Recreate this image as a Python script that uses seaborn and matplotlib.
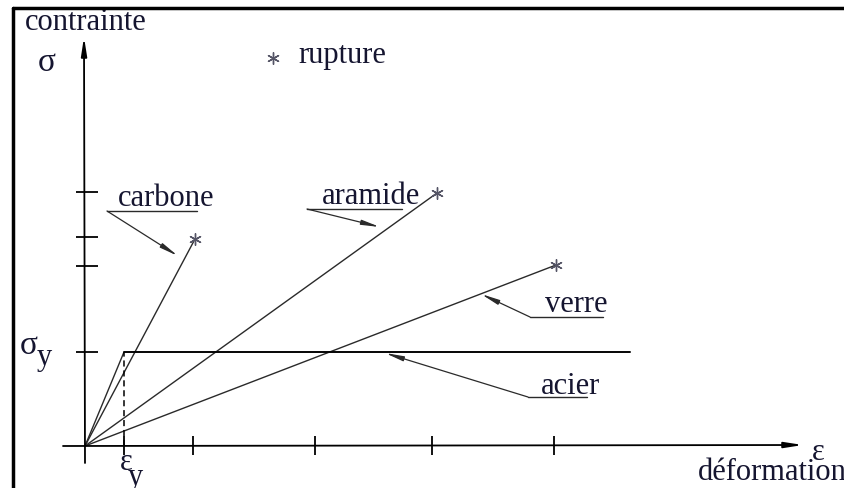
import numpy as np
import pandas as pd
import matplotlib
matplotlib.use("Agg")
import matplotlib.pyplot as plt
from matplotlib.lines import Line2D
import seaborn as sns

materiaux = ["carbone", "aramide", "verre", "acier", "acier"]
eps_y = 0.39
sig_y = 0.94
rupture_eps = [1.10, 3.52, 4.71]
rupture_sig = [2.07, 2.53, 1.81]
acier_eps = [0.0, eps_y, 5.45]
acier_sig = [0.0, sig_y, sig_y]
xticks = [eps_y, 1.08, 2.30, 3.47, 4.69]
yticks = [sig_y, 1.80, 2.09, 2.54]

sns.set_theme(style="white")
plt.rcParams["font.family"] = ["Liberation Serif", "DejaVu Serif"]

rows = []
for nom, e, s in zip(["carbone", "aramide", "verre"], rupture_eps, rupture_sig):
    rows.append((nom, 0.0, 0.0))
    rows.append((nom, e, s))
for e, s in zip(acier_eps, acier_sig):
    rows.append(("acier", e, s))
df = pd.DataFrame(rows, columns=["materiau", "deformation", "contrainte"])

fig = plt.figure(figsize=(8.44, 4.88), dpi=100)
ax = fig.add_axes([0, 0, 1, 1])
ax.set_xlim(-0.85, 7.59)
ax.set_ylim(-0.42, 4.46)
ax.set_axis_off()

txt = "#151530"
trait = "#2a2a2a"

# cadre (haut et gauche)
fig.add_artist(Line2D([0.0155, 0.0155], [0, 0.984], transform=fig.transFigure, color="black", lw=2.5))
fig.add_artist(Line2D([0.0155, 1.0], [0.984, 0.984], transform=fig.transFigure, color="black", lw=2.5))

# axes avec flèches
fleche = dict(arrowstyle="-|>,head_length=0.9,head_width=0.14", color="black", lw=1.3, shrinkA=0, shrinkB=0)
ax.annotate("", xy=(-0.01, 4.09), xytext=(0, -0.17), arrowprops=fleche)
ax.annotate("", xy=(7.18, 0.01), xytext=(-0.22, 0), arrowprops=fleche)

# graduations
ax.vlines(xticks, -0.09, 0.10, color="black", lw=1.3)
ax.hlines(yticks, -0.09, 0.13, color="black", lw=1.3)

# courbes
sns.lineplot(data=df, x="deformation", y="contrainte", units="materiau", estimator=None,
             sort=False, color=trait, lw=1.0, ax=ax)
ax.plot([eps_y, eps_y], [0, sig_y], color="black", lw=1.1, ls=(0, (4, 2.5)))
ax.plot(acier_eps[1:], acier_sig[1:], color="black", lw=1.3)

# points de rupture
etoile = (6, 2, 0)
sns.scatterplot(x=rupture_eps, y=rupture_sig, marker=etoile, s=70, color="#555566",
                linewidth=1.0, ax=ax, zorder=5)
sns.scatterplot(x=[1.88], y=[3.88], marker=etoile, s=70, color="#555566", linewidth=1.0, ax=ax)
ax.text(2.13, 3.91, "rupture", fontsize=22, color=txt, va="center", ha="left")

# étiquettes avec soulignement et flèche
etiquettes = [
    ("carbone", (0.81, 2.47), (0.22, 1.12, 2.35), (0.93, 1.90)),
    ("aramide", (2.86, 2.49), (2.22, 3.17, 2.37), (2.95, 2.19)),
    ("verre", (4.91, 1.42), (4.45, 5.18, 1.29), (3.96, 1.52)),
    ("acier", (4.85, 0.60), (4.43, 5.02, 0.49), (3.00, 0.93)),
]
petite = dict(arrowstyle="-|>,head_length=0.9,head_width=0.12", color=trait, lw=0.9, shrinkA=0, shrinkB=0)
for nom, (tx, ty), (u0, u1, uy), pointe in etiquettes:
    ax.text(tx, ty, nom, fontsize=22, color=txt, ha="center", va="center")
    ax.plot([u0, u1], [uy, uy], color=trait, lw=1.0)
    ax.annotate("", xy=pointe, xytext=(u0, uy), arrowprops=petite)

# textes des axes
ax.text(-0.60, 4.24, "contrainte", fontsize=22, color=txt, va="center", ha="left")
ax.text(-0.38, 3.83, "σ", fontsize=24, color=txt, va="center", ha="center")
ax.text(-0.56, 1.00, "σ", fontsize=24, color=txt, va="center", ha="center")
ax.text(-0.41, 0.88, "y", fontsize=22, color=txt, va="center", ha="center")
ax.text(0.41, -0.17, "ε", fontsize=22, color=txt, va="center", ha="center")
ax.text(0.50, -0.32, "y", fontsize=22, color=txt, va="center", ha="center")
ax.text(7.33, -0.06, "ε", fontsize=22, color=txt, va="center", ha="center")
ax.text(6.13, -0.27, "déformation", fontsize=22, color=txt, va="center", ha="left")

fig.savefig("out.png", dpi=100)
